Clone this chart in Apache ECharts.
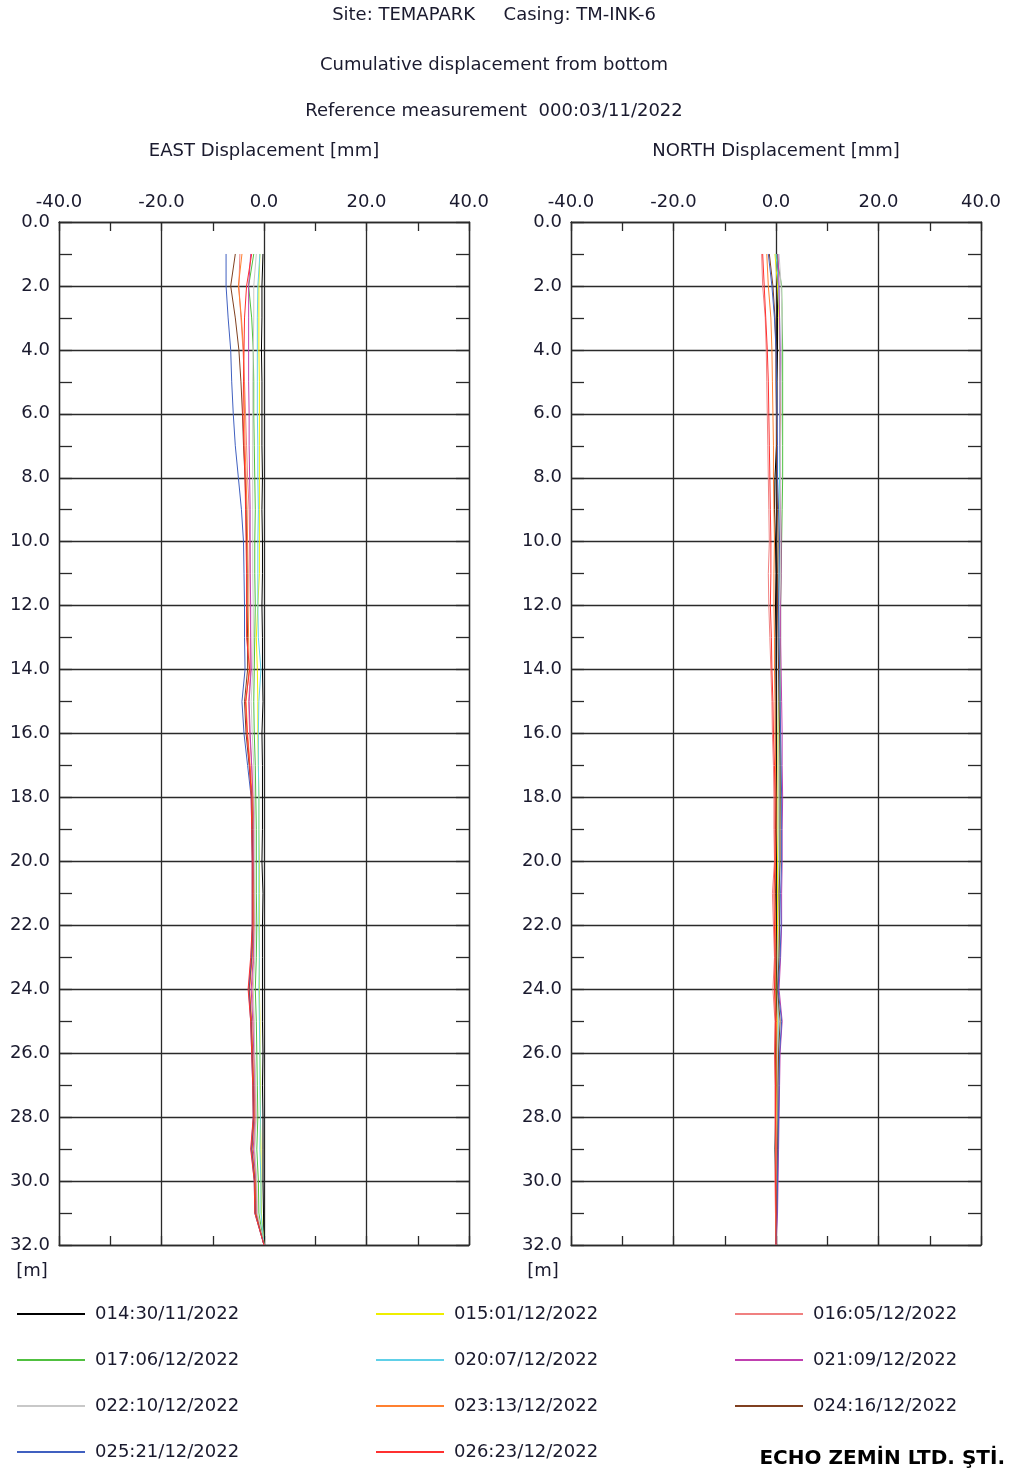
<!DOCTYPE html>
<html>
<head>
<meta charset="utf-8">
<script src="https://cdn.jsdelivr.net/npm/echarts@6/dist/echarts.min.js"></script>
<style>
html, body { margin: 0; padding: 0; background: #fff; }
#main { width: 1009px; height: 1470px; }
</style>
</head>
<body>
<div id="main"></div>
<script>
// depth of each reading [m]
var depths = [1, 2, 3, 4, 5, 6, 7, 8, 9, 10, 11, 12, 13, 14, 15, 16,
  17, 18, 19, 20, 21, 22, 23, 24, 25, 26, 27, 28, 29, 30, 31, 32];

var names = ["014:30/11/2022", "015:01/12/2022", "016:05/12/2022", "017:06/12/2022",
  "020:07/12/2022", "021:09/12/2022", "022:10/12/2022", "023:13/12/2022",
  "024:16/12/2022", "025:21/12/2022", "026:23/12/2022"];
var colors = ["#000000", "#eeee00", "#f08080", "#50c040", "#60d0e8", "#c040b0",
  "#c8c8c8", "#ff8030", "#804020", "#4060c0", "#ff3030"];

// EAST displacement [mm]
var east014 = [-0.2, -0.4, -0.4, -0.5, -0.4, -0.4, -0.4, -0.3, -0.4, -0.3,
  -0.3, -0.4, -0.3, -0.3, -0.2, -0.4, -0.3, -0.3, -0.3, -0.4,
  -0.2, -0.3, -0.3, -0.3, -0.3, -0.2, -0.3, -0.2, -0.2, -0.2, -0.1, 0];
var east015 = [-0.8, -1.0, -1.0, -1.0, -0.9, -0.9, -0.9, -0.9, -0.9, -0.9,
  -0.9, -1.2, -1.5, -1.3, -1.2, -1.2, -1.1, -1.0, -1.0, -0.9,
  -0.9, -0.9, -0.9, -0.9, -0.8, -0.8, -0.7, -0.7, -0.6, -0.6, -0.5, 0];
var east016 = [-4.7, -4.9, -4.5, -4.1, -3.8, -3.6, -3.4, -3.2, -2.9, -2.8,
  -2.7, -2.7, -2.6, -2.6, -3.0, -2.8, -2.4, -2.1, -2.0, -2.0,
  -1.9, -1.9, -2.0, -2.3, -2.0, -1.9, -1.7, -1.6, -1.9, -1.5, -1.4, 0];
var east017 = [-2.0, -3.0, -2.4, -2.1, -2.0, -2.0, -1.9, -1.8, -1.7, -1.8,
  -1.8, -1.7, -1.8, -1.9, -2.0, -1.9, -1.7, -1.6, -1.5, -1.5,
  -1.5, -1.4, -1.5, -1.7, -1.5, -1.4, -1.3, -1.2, -1.4, -1.1, -1.0, 0];
var east020 = [-0.8, -1.2, -1.3, -1.3, -1.3, -1.3, -1.2, -1.2, -1.1, -1.2,
  -1.2, -1.2, -1.1, -0.6, -1.0, -1.1, -1.1, -1.0, -1.0, -1.0,
  -1.0, -1.0, -0.9, -1.0, -0.9, -0.8, -0.8, -0.7, -0.8, -0.6, -0.6, 0];
var east021 = [-2.6, -3.0, -3.0, -3.0, -3.0, -2.9, -2.9, -2.8, -2.7, -2.7,
  -2.7, -2.6, -2.6, -2.5, -2.9, -2.7, -2.4, -2.2, -2.1, -2.1,
  -2.0, -2.0, -2.1, -2.5, -2.2, -2.0, -1.9, -1.8, -2.1, -1.6, -1.5, 0];
var east022 = [-1.5, -2.0, -2.0, -2.1, -2.2, -2.2, -2.2, -2.2, -2.2, -2.2,
  -2.2, -2.1, -2.1, -2.2, -2.5, -2.3, -2.0, -1.9, -1.8, -1.8,
  -1.8, -1.7, -1.8, -2.1, -1.9, -1.8, -1.6, -1.5, -1.8, -1.4, -1.3, 0];
var east023 = [-4.3, -5.0, -4.4, -4.0, -3.9, -3.8, -3.7, -3.5, -3.3, -3.2,
  -3.1, -3.1, -3.0, -2.9, -3.5, -3.2, -2.7, -2.3, -2.2, -2.2,
  -2.1, -2.1, -2.3, -2.8, -2.4, -2.2, -2.0, -1.9, -2.3, -1.7, -1.6, 0];
var east024 = [-5.6, -6.5, -5.6, -4.9, -4.5, -4.2, -4.0, -3.7, -3.5, -3.4,
  -3.3, -3.3, -3.2, -3.2, -3.8, -3.5, -2.9, -2.4, -2.3, -2.2,
  -2.2, -2.2, -2.4, -2.9, -2.5, -2.3, -2.1, -2.0, -2.4, -1.8, -1.7, 0];
var east025 = [-7.4, -7.4, -7.0, -6.5, -6.3, -6.0, -5.6, -5.0, -4.4, -4.0,
  -3.9, -3.8, -3.8, -3.7, -4.3, -3.9, -3.2, -2.5, -2.4, -2.3,
  -2.3, -2.3, -2.5, -3.0, -2.6, -2.4, -2.2, -2.1, -2.5, -1.9, -1.8, 0];
var east026 = [-2.4, -3.4, -3.8, -3.9, -4.0, -4.1, -3.9, -3.7, -3.6, -3.5,
  -3.4, -3.4, -3.4, -2.8, -3.6, -3.3, -2.8, -2.5, -2.4, -2.3,
  -2.3, -2.3, -2.6, -3.1, -2.6, -2.4, -2.2, -2.1, -2.6, -1.9, -1.8, 0];

// NORTH displacement [mm]
var north014 = [0.2, 0.3, 0.3, 0.3, 0.2, 0.2, 0.1, -0.2, -0.3, -0.1,
  0.0, -0.1, 0.0, 0.0, 0.0, 0.0, 0.0, 0.0, -0.1, 0.0,
  -0.1, 0.0, 0.0, 0.0, 0.0, -0.1, -0.1, -0.1, -0.2, -0.1, -0.1, 0];
var north015 = [-0.2, 0.3, 0.6, 0.7, 0.8, 0.9, 0.8, 0.8, 0.7, 0.6,
  0.6, 0.5, 0.5, 0.5, 0.5, 0.4, 0.4, 0.4, 0.4, 0.3,
  0.3, 0.3, 0.3, 0.2, 0.3, 0.2, 0.2, 0.1, 0.1, 0.1, 0.0, 0];
var north016 = [-2.8, -2.6, -2.1, -1.9, -1.8, -1.7, -1.6, -1.5, -1.4, -1.3,
  -1.5, -1.4, -1.2, -1.0, -0.8, -0.7, -0.5, -0.4, -0.4, -0.3,
  -0.7, -0.5, -0.3, -0.6, -0.2, -0.3, -0.2, -0.2, -0.1, -0.2, -0.1, 0];
var north017 = [0.1, 1.1, 1.2, 1.3, 1.3, 1.3, 1.3, 1.3, 1.2, 1.1,
  1.0, 0.9, 0.9, 0.8, 0.8, 0.8, 0.8, 0.8, 0.7, 0.7,
  0.6, 0.6, 0.5, 0.4, 0.5, 0.4, 0.3, 0.3, 0.2, 0.2, 0.1, 0];
var north020 = [0.0, 0.5, 0.7, 0.8, 0.8, 0.7, 0.7, 0.7, 0.6, 0.6,
  0.6, 0.5, 0.5, 0.5, 0.6, 0.6, 0.6, 0.6, 0.6, 0.6,
  0.5, 0.5, 0.4, 0.3, 0.5, 0.4, 0.3, 0.3, 0.2, 0.2, 0.1, 0];
var north021 = [0.4, 0.6, 0.7, 0.8, 0.8, 0.8, 0.8, 0.9, 0.9, 1.0,
  1.0, 0.9, 0.9, 1.0, 1.1, 1.2, 1.2, 1.3, 1.2, 1.2,
  1.1, 1.1, 0.9, 0.6, 1.2, 0.8, 0.7, 0.6, 0.5, 0.4, 0.3, 0];
var north022 = [0.6, 1.0, 1.2, 1.1, 1.0, 1.0, 0.9, 0.9, 0.8, 0.8,
  0.9, 0.7, 0.7, 0.7, 0.7, 0.7, 0.6, 0.6, 0.6, 0.6,
  0.5, 0.5, 0.4, 0.3, 0.4, 0.3, 0.3, 0.2, 0.2, 0.1, 0.1, 0];
var north023 = [-1.8, -1.5, -1.0, -0.8, -0.7, -0.6, -0.5, -0.5, -0.4, -0.3,
  -0.4, -0.4, -0.3, -0.3, -0.2, -0.2, -0.1, 0.0, 0.0, -0.1,
  -0.2, -0.1, 0.0, -0.2, 0.1, 0.0, 0.0, 0.0, 0.0, 0.0, 0.0, 0];
var north024 = [-1.3, -0.6, -0.2, 0.0, 0.0, 0.1, 0.1, 0.2, 0.3, 0.4,
  0.3, 0.3, 0.4, 0.5, 0.6, 0.7, 0.8, 0.8, 0.8, 0.8,
  0.6, 0.7, 0.6, 0.3, 0.8, 0.5, 0.4, 0.4, 0.3, 0.2, 0.1, 0];
var north025 = [-1.5, -0.8, -0.3, 0.0, 0.1, 0.2, 0.3, 0.3, 0.5, 0.7,
  0.6, 0.5, 0.6, 0.7, 0.8, 0.9, 1.0, 1.1, 1.1, 1.1,
  0.9, 1.0, 0.8, 0.4, 1.1, 0.7, 0.6, 0.5, 0.4, 0.3, 0.2, 0];
var north026 = [-2.6, -2.3, -2.0, -1.7, -1.5, -1.4, -1.3, -1.2, -1.1, -1.0,
  -1.0, -1.1, -0.9, -0.8, -0.6, -0.5, -0.3, -0.2, -0.2, -0.2,
  -0.4, -0.3, -0.2, -0.3, -0.1, -0.2, -0.1, -0.1, 0.0, -0.1, 0.0, 0];

var eastData = [east014, east015, east016, east017, east020, east021,
  east022, east023, east024, east025, east026];
var northData = [north014, north015, north016, north017, north020, north021,
  north022, north023, north024, north025, north026];

var FONT = "DejaVu Sans";
var INK = "#2a2a2a";
var TXT = "#1a1a2e";

function fmt(v) { return v.toFixed(1); }

// top axis with labels, bottom axis only for the inner ticks
function xAxes(g) {
  var base = {
    gridIndex: g, type: "value", min: -40, max: 40, interval: 20,
    axisLine: { show: true, onZero: false, lineStyle: { color: INK, width: 1.3 } },
    axisTick: { show: true, inside: true, length: 9, lineStyle: { color: INK, width: 1.3 } },
    minorTick: { show: true, splitNumber: 2, length: 9, lineStyle: { color: INK, width: 1.3 } }
  };
  var top = Object.assign({}, base, {
    position: "top",
    splitLine: { show: true, lineStyle: { color: INK, width: 1.3 } },
    axisLabel: { margin: 11, fontSize: 18, color: TXT, fontFamily: FONT, formatter: fmt }
  });
  var bottom = Object.assign({}, base, {
    position: "bottom",
    splitLine: { show: false },
    axisLabel: { show: false }
  });
  return [top, bottom];
}

function yAxes(g) {
  var base = {
    gridIndex: g, type: "value", inverse: true, min: 0, max: 32, interval: 2,
    axisLine: { show: true, onZero: false, lineStyle: { color: INK, width: 1.3 } },
    axisTick: { show: true, inside: true, length: 13, lineStyle: { color: INK, width: 1.3 } },
    minorTick: { show: true, splitNumber: 2, length: 13, lineStyle: { color: INK, width: 1.3 } }
  };
  var left = Object.assign({}, base, {
    position: "left",
    splitLine: { show: true, lineStyle: { color: INK, width: 1.3 } },
    axisLabel: { margin: 9, fontSize: 18, color: TXT, fontFamily: FONT, formatter: fmt, padding: [5, 0, 0, 0] }
  });
  var right = Object.assign({}, base, {
    position: "right",
    splitLine: { show: false },
    axisLabel: { show: false }
  });
  return [left, right];
}

var series = [];
[eastData, northData].forEach(function (set, g) {
  names.forEach(function (name, i) {
    series.push({
      name: name,
      type: "line",
      xAxisIndex: g * 2,
      yAxisIndex: g * 2,
      symbol: "none",
      lineStyle: { width: 1, color: colors[i] },
      itemStyle: { color: colors[i] },
      data: depths.map(function (d, k) { return [set[i][k], d]; })
    });
  });
});

function legendCol(left, list) {
  return {
    orient: "vertical", left: left, top: 1304, padding: 0,
    itemWidth: 68, itemHeight: 20, itemGap: 26,
    icon: "path://M0,9 L68,9 L68,11 L0,11 Z",
    textStyle: { fontSize: 18, color: TXT, fontFamily: FONT, lineHeight: 20, padding: [0, 0, 0, 5] },
    data: list
  };
}

function label(x, y, text) {
  return { type: "text", x: x, y: y, style: { text: text, font: "18px " + FONT, fill: TXT, textAlign: "center", textVerticalAlign: "middle" } };
}

var myChart = echarts.init(document.getElementById("main"));
var option = {
  animation: false,
  backgroundColor: "#fff",
  grid: [
    { left: 59, right: 540, top: 222, height: 1023, outerBoundsMode: "none" },
    { left: 571, right: 28, top: 222, height: 1023, outerBoundsMode: "none" }
  ],
  xAxis: xAxes(0).concat(xAxes(1)),
  yAxis: yAxes(0).concat(yAxes(1)),
  legend: [
    legendCol(17, [names[0], names[3], names[6], names[9]]),
    legendCol(376, [names[1], names[4], names[7], names[10]]),
    legendCol(735, [names[2], names[5], names[8]])
  ],
  graphic: [
    label(494, 15, "Site: TEMAPARK     Casing: TM-INK-6"),
    label(494, 65, "Cumulative displacement from bottom"),
    label(494, 111, "Reference measurement  000:03/11/2022"),
    label(264, 151, "EAST Displacement [mm]"),
    label(776, 151, "NORTH Displacement [mm]"),
    label(32, 1271, "[m]"),
    label(543, 1271, "[m]"),
    { type: "text", x: 1005, y: 1459, style: { text: "ECHO ZEMİN LTD. ŞTİ.", font: "bold 20px " + FONT, fill: "#000", textAlign: "right", textVerticalAlign: "middle" } }
  ],
  series: series
};
myChart.setOption(option);
</script>
</body>
</html>
